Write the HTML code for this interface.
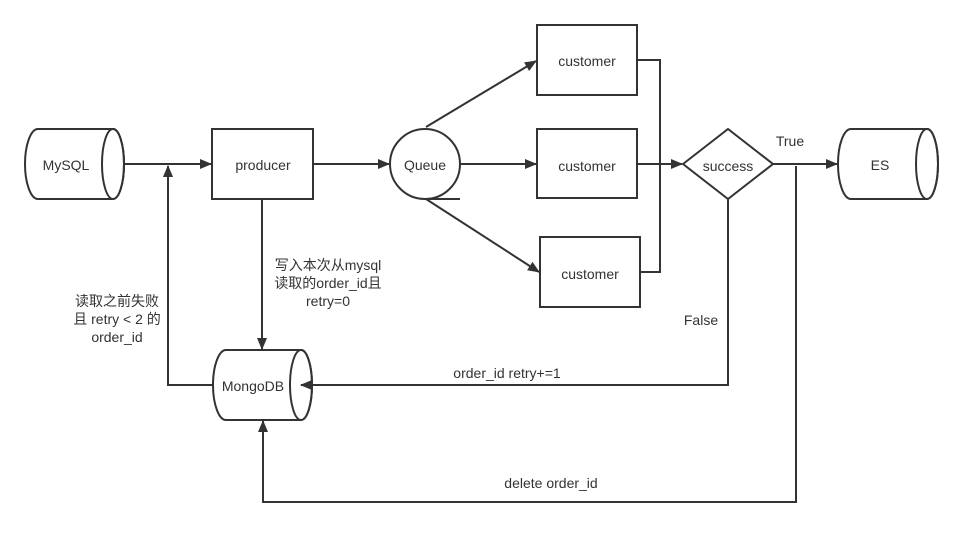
<!DOCTYPE html>
<html><head><meta charset="utf-8"><style>
html,body{margin:0;padding:0;background:#fff;}
svg text{font-family:"Liberation Sans","Noto Sans CJK SC",sans-serif;font-size:14px;fill:#333;}
</style></head><body>
<svg width="964" height="528" viewBox="0 0 964 528" xmlns="http://www.w3.org/2000/svg">
<defs><marker id="a" markerWidth="12" markerHeight="10" refX="11" refY="5" orient="auto" markerUnits="userSpaceOnUse"><path d="M0,0 L12,5 L0,10 Z" fill="#333"/></marker></defs>
<g fill="none" stroke="#333" stroke-width="2">
<!-- MySQL -->
<path d="M38,129 H113 A11,35 0 0 1 113,199 H38 A13,35 0 0 1 38,129 Z"/>
<ellipse cx="113" cy="164" rx="11" ry="35"/>
<!-- producer -->
<rect x="212" y="129" width="101" height="70"/>
<!-- Queue -->
<circle cx="425" cy="164" r="35"/>
<line x1="425" y1="199" x2="460" y2="199"/>
<!-- customers -->
<rect x="537" y="25" width="100" height="70"/>
<rect x="537" y="129" width="100" height="69"/>
<rect x="540" y="237" width="100" height="70"/>
<!-- diamond -->
<path d="M683,164 L728,129 L773,164 L728,199 Z"/>
<!-- ES -->
<path d="M851,129 H927 A11,35 0 0 1 927,199 H851 A13,35 0 0 1 851,129 Z"/>
<ellipse cx="927" cy="164" rx="11" ry="35"/>
<!-- MongoDB -->
<path d="M226,350 H301 A11,35 0 0 1 301,420 H226 A13,35 0 0 1 226,350 Z"/>
<ellipse cx="301" cy="385" rx="11" ry="35"/>
<!-- connectors -->
<line x1="124" y1="164" x2="211" y2="164" marker-end="url(#a)"/>
<line x1="313" y1="164" x2="389" y2="164" marker-end="url(#a)"/>
<line x1="460" y1="164" x2="536" y2="164" marker-end="url(#a)"/>
<line x1="426" y1="127" x2="536" y2="61" marker-end="url(#a)"/>
<line x1="426" y1="199" x2="539" y2="272" marker-end="url(#a)"/>
<polyline points="637,60 660,60 660,272 641,272"/>
<line x1="637" y1="164" x2="682" y2="164" marker-end="url(#a)"/>
<line x1="773" y1="164" x2="837" y2="164" marker-end="url(#a)"/>
<line x1="262" y1="199" x2="262" y2="349" marker-end="url(#a)"/>
<polyline points="213,385 168,385 168,166" marker-end="url(#a)"/>
<polyline points="728,199 728,385 301,385" marker-end="url(#a)"/>
<polyline points="796,166 796,502 263,502 263,421" marker-end="url(#a)"/>
</g>
<text x="66" y="170" text-anchor="middle">MySQL</text>
<text x="263" y="170" text-anchor="middle">producer</text>
<text x="425" y="170" text-anchor="middle">Queue</text>
<text x="587" y="66" text-anchor="middle">customer</text>
<text x="587" y="171" text-anchor="middle">customer</text>
<text x="590" y="279" text-anchor="middle">customer</text>
<text x="728" y="171" text-anchor="middle">success</text>
<text x="790" y="146" text-anchor="middle">True</text>
<text x="880" y="170" text-anchor="middle">ES</text>
<text x="253" y="391" text-anchor="middle">MongoDB</text>
<text x="328" y="270" text-anchor="middle">写入本次从mysql</text>
<text x="328" y="288" text-anchor="middle">读取的order_id且</text>
<text x="328" y="306" text-anchor="middle">retry=0</text>
<text x="117" y="306" text-anchor="middle">读取之前失败</text>
<text x="117" y="324" text-anchor="middle">且 retry &lt; 2 的</text>
<text x="117" y="342" text-anchor="middle">order_id</text>
<text x="701" y="325" text-anchor="middle">False</text>
<text x="507" y="378" text-anchor="middle">order_id retry+=1</text>
<text x="551" y="488" text-anchor="middle">delete order_id</text>
</svg>
</body></html>
